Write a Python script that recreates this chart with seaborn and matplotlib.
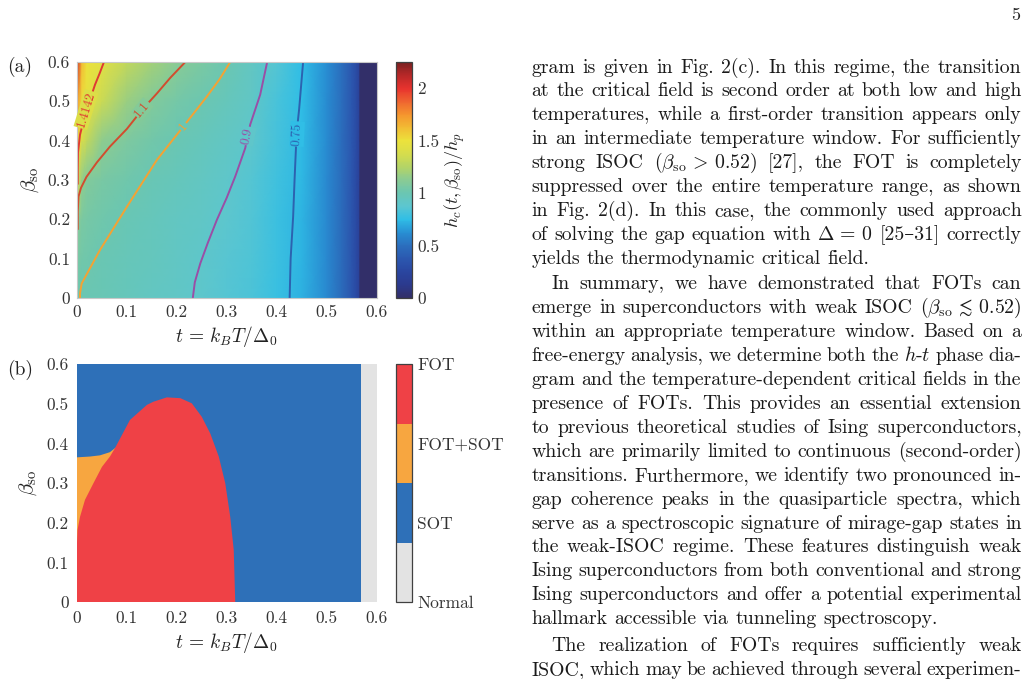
import matplotlib
matplotlib.use('Agg')
import numpy as np
import matplotlib.pyplot as plt
import seaborn as sns
from matplotlib.colors import Normalize, ListedColormap
from matplotlib.cm import ScalarMappable
from matplotlib.transforms import IdentityTransform

# ---------------- data: panel (a) ----------------
t_grid = [0, 0.01, 0.02, 0.05, 0.1, 0.15, 0.2, 0.25, 0.3, 0.35, 0.4, 0.45,
          0.5, 0.53, 0.55, 0.56, 0.566, 0.567, 0.6]
beta_grid = [0, 0.1, 0.2, 0.3, 0.4, 0.5, 0.6]
hc_b00 = [1.005, 1.0, 0.998, 0.985, 0.965, 0.94, 0.915, 0.89, 0.86, 0.83, 0.78, 0.72, 0.6, 0.48, 0.36, 0.28, 0.2, 0.0, 0.0]
hc_b01 = [1.06, 1.03, 1.02, 0.995, 0.975, 0.955, 0.93, 0.9, 0.87, 0.835, 0.783, 0.722, 0.6, 0.48, 0.36, 0.28, 0.2, 0.0, 0.0]
hc_b02 = [1.12, 1.07, 1.05, 1.02, 0.99, 0.965, 0.94, 0.915, 0.885, 0.845, 0.79, 0.728, 0.6, 0.48, 0.36, 0.28, 0.2, 0.0, 0.0]
hc_b03 = [1.42, 1.15, 1.095, 1.06, 1.025, 0.99, 0.96, 0.935, 0.905, 0.86, 0.798, 0.733, 0.605, 0.485, 0.365, 0.28, 0.2, 0.0, 0.0]
hc_b04 = [1.55, 1.38, 1.3, 1.14, 1.075, 1.035, 0.995, 0.96, 0.93, 0.895, 0.81, 0.74, 0.61, 0.49, 0.37, 0.285, 0.2, 0.0, 0.0]
hc_b05 = [1.75, 1.52, 1.46, 1.33, 1.17, 1.095, 1.045, 1.005, 0.965, 0.915, 0.825, 0.748, 0.615, 0.495, 0.37, 0.285, 0.2, 0.0, 0.0]
hc_b06 = [2.05, 1.62, 1.5, 1.435, 1.3, 1.2, 1.12, 1.065, 1.01, 0.94, 0.86, 0.755, 0.62, 0.5, 0.375, 0.29, 0.2, 0.0, 0.0]

contour_levels = [1.4142, 1.1, 1.0, 0.9, 0.75]
c1414_t = [0.054, 0.045, 0.036, 0.025, 0.013, 0.006, 0.002, 0.0015, 0.0015]
c1414_b = [0.6, 0.57, 0.542, 0.5, 0.45, 0.415, 0.37, 0.33, 0.29]
c110_t = [0.217, 0.187, 0.16, 0.13, 0.1, 0.066, 0.04, 0.019, 0.008, 0.003, 0.0015, 0.0015]
c110_b = [0.6, 0.56, 0.52, 0.478, 0.43, 0.385, 0.345, 0.308, 0.28, 0.258, 0.22, 0.175]
c100_t = [0.307, 0.285, 0.26, 0.213, 0.16, 0.1, 0.046, 0.0094, 0.006, 0.006]
c100_b = [0.6, 0.555, 0.512, 0.436, 0.351, 0.232, 0.122, 0.037, 0.012, 0.0]
c090_t = [0.232, 0.236, 0.247, 0.262, 0.28, 0.3, 0.317, 0.337, 0.347, 0.367, 0.381]
c090_b = [0.0, 0.04, 0.088, 0.14, 0.198, 0.255, 0.309, 0.381, 0.441, 0.517, 0.6]
c075_t = [0.426, 0.428, 0.433, 0.436, 0.44, 0.445, 0.449, 0.453]
c075_b = [0.0, 0.1, 0.207, 0.305, 0.42, 0.48, 0.54, 0.6]

# ---------------- data: panel (b) ----------------
t_normal = 0.568
fot_t = [0.0, 0.317, 0.314, 0.307, 0.297, 0.284, 0.267, 0.25, 0.23, 0.207, 0.18, 0.153,
         0.14, 0.106, 0.076, 0.066, 0.05, 0.033, 0.016, 0.006, 0.001, 0.0]
fot_b = [0.0, 0.0, 0.132, 0.215, 0.3, 0.367, 0.425, 0.467, 0.501, 0.514, 0.516, 0.505,
         0.497, 0.459, 0.388, 0.367, 0.341, 0.3, 0.258, 0.215, 0.182, 0.149]
mix_t = [0.0, 0.0, 0.026, 0.046, 0.066, 0.078, 0.06]
mix_b = [0.149, 0.365, 0.367, 0.37, 0.378, 0.39, 0.149]
phase_labels = ['Normal', 'SOT', 'FOT+SOT', 'FOT']

tick_vals = [0, 0.1, 0.2, 0.3, 0.4, 0.5, 0.6]
tick_labels = ['0', '0.1', '0.2', '0.3', '0.4', '0.5', '0.6']
cbar_a_ticks = [0, 0.5, 1, 1.5, 2]
cbar_a_labels = ['0', '0.5', '1', '1.5', '2']

body_p1 = [
    "gram is given in Fig. 2(c). In this regime, the transition",
    "at the critical field is second order at both low and high",
    "temperatures, while a first-order transition appears only",
    "in an intermediate temperature window. For sufficiently",
    r"strong ISOC ($\beta_{\mathrm{so}}\,>\,0.52$) [27], the FOT is completely",
    "suppressed over the entire temperature range, as shown",
    "in Fig. 2(d). In this case, the commonly used approach",
    r"of solving the gap equation with $\Delta\,=\,0$ [25–31] correctly",
    "yields the thermodynamic critical field.",
]
body_p2 = [
    "In summary, we have demonstrated that FOTs can",
    r"emerge in superconductors with weak ISOC ($\beta_{\mathrm{so}}\,\lesssim\,0.52$)",
    "within an appropriate temperature window. Based on a",
    r"free-energy analysis, we determine both the $h$-$t$ phase dia-",
    "gram and the temperature-dependent critical fields in the",
    "presence of FOTs. This provides an essential extension",
    "to previous theoretical studies of Ising superconductors,",
    "which are primarily limited to continuous (second-order)",
    "transitions. Furthermore, we identify two pronounced in-",
    "gap coherence peaks in the quasiparticle spectra, which",
    "serve as a spectroscopic signature of mirage-gap states in",
    "the weak-ISOC regime. These features distinguish weak",
    "Ising superconductors from both conventional and strong",
    "Ising superconductors and offer a potential experimental",
    "hallmark accessible via tunneling spectroscopy.",
]
body_p3 = [
    "The realization of FOTs requires sufficiently weak",
    "ISOC, which may be achieved through several experimen-",
]

# ---------------- style ----------------
sns.set_theme(style='white')
plt.rcParams['font.family'] = ['cmr10', 'DejaVu Serif']
plt.rcParams['mathtext.fontset'] = 'cm'
plt.rcParams['axes.formatter.use_mathtext'] = True
plt.rcParams['axes.unicode_minus'] = False

# colormap stops every 0.125 from 0 to 2.25
hc_colors = ['#322f69', '#2b3a8e', '#2a46a0', '#2b58b0', '#2b6fbe', '#2890d4',
             '#30bee6', '#5cc6d0', '#6ac6b2', '#8acb94', '#b4d466', '#d6dd4c',
             '#ece23c', '#f2bc34', '#f5952e', '#ef6530', '#e8332e', '#b82828', '#7a2020']
cmap_a = sns.blend_palette(hc_colors, as_cmap=True)
norm_a = Normalize(0, 2.25)
contour_colors = ['#e03a32', '#d24c2e', '#f4a233', '#9a4ea6', '#2c62b0']
label_pos = [(0.018, 0.479, 73), (0.131, 0.48, 50), (0.213, 0.436, 52),
             (0.342, 0.412, 78), (0.441, 0.417, 87)]
phase_colors = ['#e3e3e3', '#2e70b8', '#f7a640', '#ef4146']
tick_color = '#333333'

W, H = 1028, 679
fig = plt.figure(figsize=(W / 100, H / 100), dpi=100)
fig.patch.set_facecolor('white')


def fr(x0, y0, x1, y1):
    return [x0 / W, 1 - y1 / H, (x1 - x0) / W, (y1 - y0) / H]


ax_a = fig.add_axes(fr(77, 62, 376.5, 298))
cax_a = fig.add_axes(fr(395.5, 62, 412, 298))
ax_b = fig.add_axes(fr(77, 364, 376.5, 602.3))
cax_b = fig.add_axes(fr(395.5, 364, 411.5, 602.3))

# ---------------- panel (a) ----------------
TT, BB = np.meshgrid(t_grid, beta_grid)
Z = np.array([hc_b00, hc_b01, hc_b02, hc_b03, hc_b04, hc_b05, hc_b06])
mesh = ax_a.pcolormesh(TT, BB, Z, shading='gouraud', cmap=cmap_a, norm=norm_a)

contours = [(c1414_t, c1414_b), (c110_t, c110_b), (c100_t, c100_b),
            (c090_t, c090_b), (c075_t, c075_b)]
for (ct, cb), lvl, col, (lx, ly, rot) in zip(contours, contour_levels, contour_colors, label_pos):
    sns.lineplot(x=np.array(ct), y=np.array(cb), sort=False, estimator=None,
                 color=col, lw=1.4, ax=ax_a)
    ax_a.text(lx, ly, f'{lvl:g}', rotation=rot, rotation_mode='anchor',
              ha='center', va='center', color=col, fontsize=9.5,
              bbox=dict(boxstyle='square,pad=0.08', fc=cmap_a(norm_a(lvl)), ec='none'))

for ax in (ax_a, ax_b):
    ax.set_xlim(0, 0.6)
    ax.set_ylim(0, 0.6)
    ax.set_xticks(tick_vals)
    ax.set_xticklabels(tick_labels)
    ax.set_yticks(tick_vals)
    ax.set_yticklabels(tick_labels)
    ax.set_xlabel(r'$t\,=\,k_BT/\Delta_0$', fontsize=14, labelpad=3, color='#222222')
    ax.set_ylabel(r'$\beta_{\mathrm{so}}$', fontsize=15, labelpad=5, color='#222222')

for s in ax_a.spines.values():
    s.set_color('#c8c8c8')
    s.set_linewidth(0.8)
ax_a.tick_params(direction='in', length=4, width=0.7, color='#b0b0b0', top=True, right=True,
                 labelsize=12.5, pad=5, labelcolor=tick_color)

cb_a = fig.colorbar(mesh, cax=cax_a, ticks=cbar_a_ticks)
cb_a.set_ticklabels(cbar_a_labels)
cb_a.outline.set_edgecolor('#404040')
cb_a.outline.set_linewidth(0.9)
cax_a.tick_params(direction='in', length=3, width=0.7, color='#333333', labelsize=12.5,
                  pad=4, labelcolor=tick_color)
cax_a.set_ylabel(r'$h_c(t,\beta_{\mathrm{so}})/h_p$', fontsize=13, labelpad=2, color='#222222')

# ---------------- panel (b) ----------------
ax_b.fill_between([0, t_normal], 0, 0.6, color=phase_colors[1], lw=0)
ax_b.fill_between([t_normal, 0.6], 0, 0.6, color=phase_colors[0], lw=0)
ax_b.fill(mix_t, mix_b, color=phase_colors[2], lw=0)
ax_b.fill(fot_t, fot_b, color=phase_colors[3], lw=0)
for s in ax_b.spines.values():
    s.set_visible(False)
ax_b.tick_params(length=0, labelsize=12.5, pad=6, labelcolor=tick_color)

sm = ScalarMappable(norm=Normalize(1, 4), cmap=ListedColormap(phase_colors))
cb_b = fig.colorbar(sm, cax=cax_b, ticks=[1, 2, 3, 4])
cb_b.set_ticklabels(phase_labels)
cb_b.outline.set_edgecolor('#404040')
cb_b.outline.set_linewidth(0.9)
cax_b.tick_params(direction='in', length=3, width=0.7, color='#333333', labelsize=12.5,
                  pad=4, labelcolor=tick_color)

ident = IdentityTransform()
fig.text(7, H - 67, '(a)', fontsize=14, ha='left', va='center', transform=ident, color='#222222')
fig.text(7, H - 370, '(b)', fontsize=14, ha='left', va='center', transform=ident, color='#222222')
fig.text(1016, H - 15, '5', fontsize=13, ha='center', va='center', transform=ident, color='#222222')

# ---------------- body text (justified) ----------------
renderer = fig.canvas.get_renderer()


def width_of(s, fs):
    tx = fig.text(0, 0, s, fontsize=fs, transform=ident)
    w = tx.get_window_extent(renderer).width
    tx.remove()
    return w


def split_words(line):
    words, cur, in_math = [], '', False
    for ch in line:
        if ch == '$':
            in_math = not in_math
        if ch == ' ' and not in_math:
            words.append(cur)
            cur = ''
        else:
            cur += ch
    words.append(cur)
    return words


fs = 12 * 339.0 / width_of("yields the thermodynamic critical field.", 12)
space_w = width_of("a a", fs) - width_of("aa", fs)
x_left, x_right = 531.5, 1021.5
indent = 20
line_h = 23.93
half_x = 0.215 * fs * 100 / 72


def place_par(lines, y0, first_indent, last_justified=False):
    for i, line in enumerate(lines):
        yb = y0 + i * line_h + half_x
        xs = x_left + (first_indent if i == 0 else 0)
        words = split_words(line)
        ws = [width_of(w, fs) for w in words]
        justify = (i < len(lines) - 1) or last_justified
        if justify and len(words) > 1:
            gap = (x_right - xs - sum(ws)) / (len(words) - 1)
        else:
            gap = space_w
        x = xs
        for w, ww in zip(words, ws):
            fig.text(x, H - yb, w, fontsize=fs, ha='left', va='baseline',
                     transform=ident, color='#1a1a1a')
            x += ww + gap


place_par(body_p1, 68.3, 0)
place_par(body_p2, 285.0, indent)
place_par(body_p3, 647.0, indent, last_justified=True)

fig.savefig('out.png', dpi=100)
